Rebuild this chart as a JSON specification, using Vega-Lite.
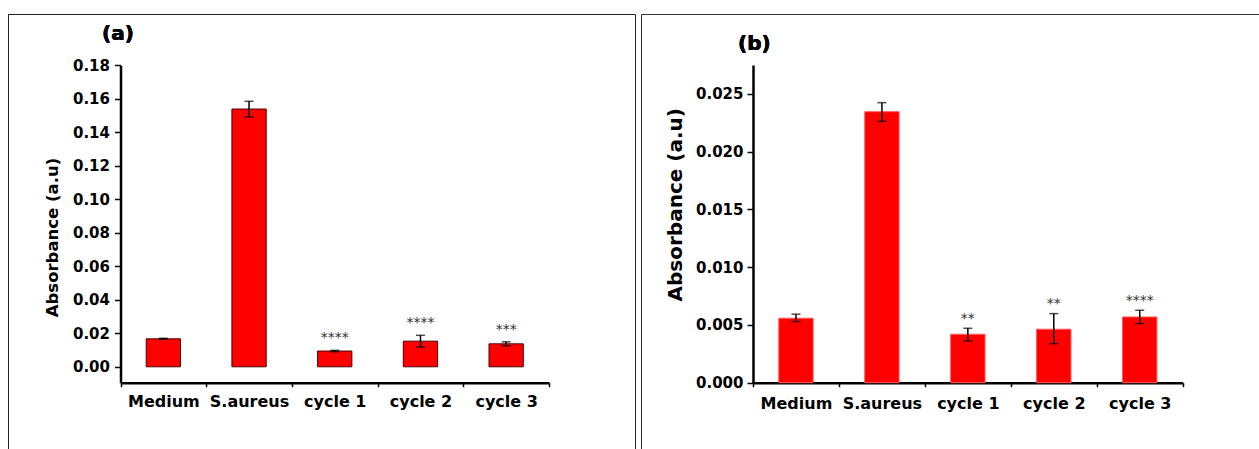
{
  "$schema": "https://vega.github.io/schema/vega-lite/v6.json",
  "padding": {"left": 7, "top": 13, "right": 0, "bottom": 0},
  "autosize": {"type": "pad"},
  "background": "white",
  "spacing": 4,
  "config": {
    "font": "DejaVu Sans",
    "view": {"stroke": "#222", "strokeWidth": 1},
    "axis": {"grid": false, "domainColor": "black", "domainWidth": 2.5, "tickColor": "black", "tickWidth": 1.5, "labelColor": "black", "titleColor": "black", "labelFont": "DejaVu Sans", "titleFont": "DejaVu Sans", "labelFontWeight": "bold", "titleFontWeight": "bold"}
  },
  "hconcat": [
    {
      "width": 627,
      "height": 435,
      "view": {"stroke": "#222", "strokeDash": [1062, 627, 435]},
      "data": {"values": [
        {"group": "Medium", "mean": 0.0167, "lo": 0.0164, "hi": 0.0170, "sig": ""},
        {"group": "S.aureus", "mean": 0.1539, "lo": 0.1491, "hi": 0.1585, "sig": ""},
        {"group": "cycle 1", "mean": 0.0094, "lo": 0.0090, "hi": 0.0098, "sig": "****"},
        {"group": "cycle 2", "mean": 0.0153, "lo": 0.0118, "hi": 0.0188, "sig": "****"},
        {"group": "cycle 3", "mean": 0.0137, "lo": 0.0125, "hi": 0.0149, "sig": "***"}
      ]},
      "encoding": {
        "x": {"field": "group", "type": "nominal", "sort": null,
          "scale": {"range": [112.5, 541], "padding": 0},
          "axis": {"title": null, "orient": "bottom", "offset": -66.3, "labelAngle": 0, "tickBand": "extent", "tickSize": 4, "labelPadding": 7, "labelFontSize": 16}}
      },
      "layer": [
        {
          "mark": {"type": "bar", "width": {"band": 0.4}, "fill": "#ff0000", "stroke": "#4d0000", "strokeWidth": 1},
          "encoding": {
            "y": {"field": "mean", "type": "quantitative", "title": "Absorbance (a.u)",
              "scale": {"domain": [-0.0095, 0.18], "range": [368.7, 51.3], "nice": false, "zero": false},
              "axis": {"title": "Absorbance (a.u)", "orient": "left", "offset": -112.5,
                "values": [0, 0.01, 0.02, 0.03, 0.04, 0.05, 0.06, 0.07, 0.08, 0.09, 0.1, 0.11, 0.12, 0.13, 0.14, 0.15, 0.16, 0.17, 0.18],
                "labelExpr": "round(datum.value*100) % 2 == 0 ? format(datum.value, '.2f') : ''",
                "labelOverlap": false, "labelFlush": false,
                "tickSize": {"condition": {"test": "round(datum.value*100) % 2 == 1", "value": 3.5}, "value": 6},
                "labelPadding": 5, "labelFontSize": 15,
                "titleFontSize": 16.5, "titleAngle": -90, "titleX": -68, "titleY": 223, "titleAlign": "center", "titleBaseline": "middle"}}
          }
        },
        {
          "mark": {"type": "errorbar", "ticks": {"size": 9, "thickness": 1.5, "color": "black"}, "rule": {"strokeWidth": 1.5, "color": "black"}},
          "encoding": {
            "y": {"field": "lo", "type": "quantitative", "title": "Absorbance (a.u)"},
            "y2": {"field": "hi"}
          }
        },
        {
          "mark": {"type": "text", "baseline": "alphabetic", "dy": -8, "fontSize": 14, "color": "#333", "font": "DejaVu Sans"},
          "encoding": {
            "y": {"field": "hi", "type": "quantitative", "title": "Absorbance (a.u)"},
            "text": {"field": "sig"}
          }
        },
        {
          "mark": {"type": "text", "align": "center", "baseline": "middle", "dx": -45.4, "fontSize": 20, "fontWeight": "bold", "color": "black", "font": "DejaVu Sans"},
          "encoding": {
            "x": {"datum": "Medium"},
            "y": {"datum": 0.1987, "type": "quantitative"},
            "text": {"value": "(a)"}
          }
        }
      ]
    },
    {
      "width": 620,
      "height": 435,
      "view": {"stroke": "#333", "strokeDash": [620, 1055, 435, 1]},
      "data": {"values": [
        {"group": "Medium", "mean": 0.00558, "lo": 0.00529, "hi": 0.00593, "sig": ""},
        {"group": "S.aureus", "mean": 0.02346, "lo": 0.02262, "hi": 0.02424, "sig": ""},
        {"group": "cycle 1", "mean": 0.00419, "lo": 0.00361, "hi": 0.00471, "sig": "**"},
        {"group": "cycle 2", "mean": 0.00463, "lo": 0.00338, "hi": 0.00598, "sig": "**"},
        {"group": "cycle 3", "mean": 0.00569, "lo": 0.00511, "hi": 0.00627, "sig": "****"}
      ]},
      "encoding": {
        "x": {"field": "group", "type": "nominal", "sort": null,
          "scale": {"range": [112, 541.7], "padding": 0},
          "axis": {"title": null, "orient": "bottom", "offset": -66.3, "labelAngle": 0, "tickBand": "extent", "tickSize": 4, "labelPadding": 9, "labelFontSize": 16}}
      },
      "layer": [
        {
          "mark": {"type": "bar", "width": {"band": 0.4}, "fill": "#ff0000", "stroke": "#ff5a5a", "strokeWidth": 1},
          "encoding": {
            "y": {"field": "mean", "type": "quantitative", "title": "Absorbance (a.u)",
              "scale": {"domain": [0, 0.0275], "range": [368.7, 51], "nice": false, "zero": false},
              "axis": {"title": "Absorbance (a.u)", "orient": "left", "offset": -112,
                "values": [0, 0.005, 0.01, 0.015, 0.02, 0.025], "format": ".3f",
                "labelOverlap": false, "labelFlush": false,
                "tickSize": 6, "labelPadding": 4, "labelFontSize": 15,
                "titleFontSize": 20, "titleAngle": -90, "titleX": -78, "titleY": 190.3, "titleAlign": "center", "titleBaseline": "middle"}}
          }
        },
        {
          "mark": {"type": "errorbar", "ticks": {"size": 9, "thickness": 1.5, "color": "black"}, "rule": {"strokeWidth": 1.5, "color": "black"}},
          "encoding": {
            "y": {"field": "lo", "type": "quantitative", "title": "Absorbance (a.u)"},
            "y2": {"field": "hi"}
          }
        },
        {
          "mark": {"type": "text", "baseline": "alphabetic", "dy": -5.5, "fontSize": 14, "color": "#333", "font": "DejaVu Sans"},
          "encoding": {
            "y": {"field": "hi", "type": "quantitative", "title": "Absorbance (a.u)"},
            "text": {"field": "sig"}
          }
        },
        {
          "mark": {"type": "text", "align": "center", "baseline": "middle", "dx": -41.6, "fontSize": 20, "fontWeight": "bold", "color": "black", "font": "DejaVu Sans"},
          "encoding": {
            "x": {"datum": "Medium"},
            "y": {"datum": 0.0293, "type": "quantitative"},
            "text": {"value": "(b)"}
          }
        }
      ]
    }
  ]
}
